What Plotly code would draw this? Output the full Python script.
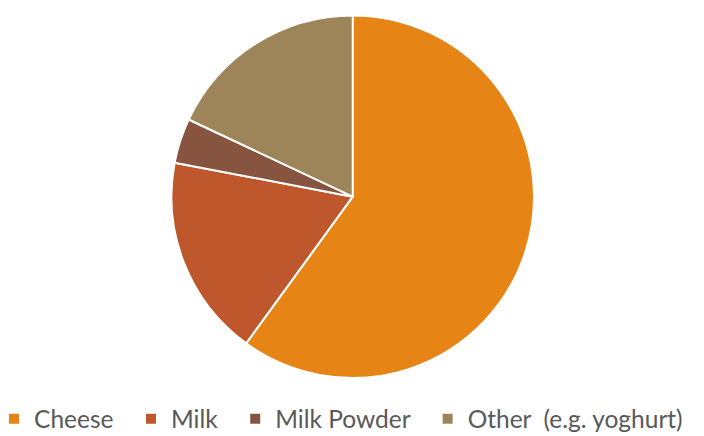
import plotly.graph_objects as go

NB = "\u00a0"
categories = ["Cheese", "Milk", "Milk Powder", "Other " + NB + "(e.g. yoghurt)"]
values = [60, 18, 4, 18]
colors = ["#E68415", "#BE582C", "#86543F", "#9D8459"]

# trailing non-breaking spaces widen the gap between legend entries
legend_labels = [c + NB * 2 for c in categories[:-1]] + [categories[-1]]

fig = go.Figure(go.Pie(
    labels=legend_labels,
    values=values,
    sort=False,
    direction="clockwise",
    rotation=0,
    textinfo="none",
    hovertext=categories,
    hoverinfo="text+percent",
    marker=dict(colors=colors, line=dict(color="white", width=2)),
    domain=dict(x=[0.2435, 0.7585], y=[0.1325, 0.9653]),
))

fig.update_layout(
    width=704, height=436,
    margin=dict(l=0, r=0, t=0, b=0, autoexpand=False),
    paper_bgcolor="white",
    plot_bgcolor="white",
    showlegend=True,
    legend=dict(
        orientation="h",
        x=-0.0085, xanchor="left",
        y=-0.012, yanchor="bottom",
        font=dict(family="Lato", size=24.5, color="#595959"),
        itemwidth=30,
        bgcolor="rgba(0,0,0,0)",
    ),
)

fig.write_html("out.html")
